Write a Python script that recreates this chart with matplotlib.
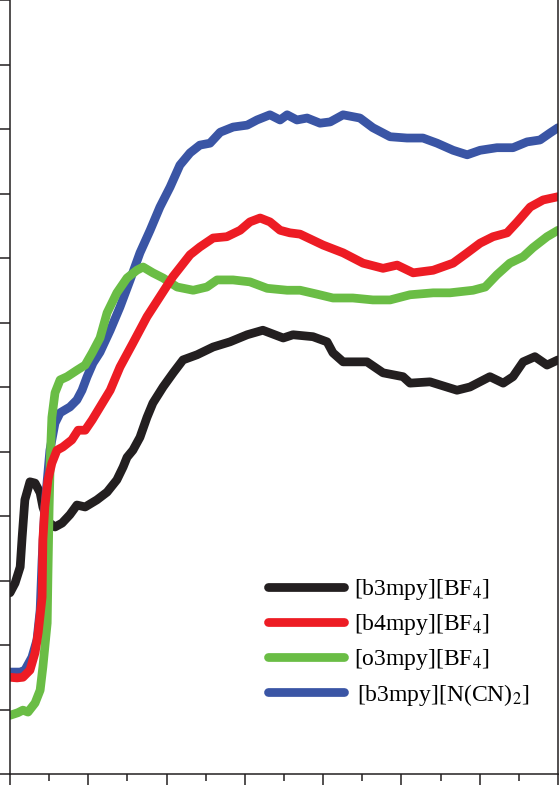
import matplotlib
matplotlib.use("Agg")
import matplotlib.pyplot as plt
from matplotlib.ticker import MultipleLocator

plt.rcParams["font.family"] = ["Liberation Serif", "DejaVu Serif"]
plt.rcParams["mathtext.fontset"] = "stix"

# values (x: minor-tick units 0..14, y: left-tick units 0..12)
x_b3_bf4 = [0.00, 0.13, 0.26, 0.31, 0.38, 0.51, 0.64, 0.77, 0.84, 0.97, 1.15, 1.33, 1.53, 1.71,
            1.92, 2.22, 2.48, 2.73, 2.89, 2.99, 3.14, 3.32, 3.50, 3.65, 3.91, 4.17, 4.42, 4.78,
            5.19, 5.62, 6.06, 6.46, 6.98, 7.23, 7.74, 8.10, 8.25, 8.51, 9.12, 9.53, 10.04, 10.22,
            10.73, 11.42, 11.75, 12.26, 12.60, 12.85, 13.11, 13.41, 13.72, 14.00]
y_b3_bf4 = [2.81, 2.96, 3.21, 3.67, 4.25, 4.53, 4.51, 4.36, 4.14, 3.91, 3.83, 3.89, 4.02, 4.17,
            4.14, 4.25, 4.37, 4.56, 4.76, 4.91, 5.02, 5.22, 5.53, 5.75, 6.00, 6.22, 6.42, 6.50,
            6.62, 6.70, 6.81, 6.88, 6.76, 6.81, 6.78, 6.70, 6.53, 6.39, 6.39, 6.22, 6.16, 6.06,
            6.08, 5.95, 6.00, 6.16, 6.06, 6.16, 6.39, 6.47, 6.34, 6.42]

x_b4_bf4 = [0.00, 0.18, 0.33, 0.51, 0.64, 0.72, 0.82, 0.84, 0.89, 0.97, 1.07, 1.20, 1.35, 1.58,
            1.74, 1.92, 2.10, 2.30, 2.56, 2.81, 3.14, 3.50, 3.83, 4.16, 4.60, 4.85, 5.19, 5.54,
            5.88, 6.13, 6.39, 6.64, 6.90, 7.15, 7.41, 8.00, 8.51, 9.02, 9.53, 9.89, 10.30, 10.81,
            11.32, 11.68, 12.01, 12.34, 12.70, 12.96, 13.29, 13.62, 14.00]
y_b4_bf4 = [1.50, 1.49, 1.50, 1.61, 1.88, 2.19, 2.74, 3.63, 4.14, 4.56, 4.82, 5.02, 5.07, 5.18,
            5.33, 5.33, 5.49, 5.69, 5.95, 6.31, 6.68, 7.09, 7.40, 7.71, 8.05, 8.17, 8.31, 8.33,
            8.43, 8.56, 8.62, 8.56, 8.43, 8.39, 8.37, 8.20, 8.08, 7.92, 7.84, 7.89, 7.77, 7.81,
            7.92, 8.08, 8.23, 8.33, 8.39, 8.56, 8.79, 8.90, 8.95]

x_o3_bf4 = [0.00, 0.20, 0.33, 0.46, 0.64, 0.77, 0.84, 0.95, 0.97, 1.00, 1.03, 1.07, 1.15, 1.28,
            1.46, 1.71, 1.92, 2.10, 2.30, 2.48, 2.73, 2.99, 3.24, 3.40, 3.65, 3.91, 4.27, 4.68,
            5.03, 5.29, 5.70, 6.13, 6.57, 7.08, 7.41, 7.84, 8.25, 8.76, 9.27, 9.71, 10.22, 10.81,
            11.24, 11.83, 12.14, 12.44, 12.77, 13.11, 13.36, 13.72, 14.00]
y_o3_bf4 = [0.91, 0.95, 0.99, 0.96, 1.10, 1.30, 1.66, 2.34, 3.12, 4.14, 4.91, 5.53, 5.91, 6.11,
            6.16, 6.26, 6.34, 6.53, 6.76, 7.15, 7.46, 7.69, 7.81, 7.86, 7.77, 7.69, 7.55, 7.50,
            7.55, 7.66, 7.66, 7.63, 7.53, 7.50, 7.50, 7.44, 7.38, 7.38, 7.35, 7.35, 7.43, 7.46,
            7.46, 7.50, 7.55, 7.74, 7.92, 8.02, 8.16, 8.33, 8.43]

x_b3_dca = [0.00, 0.26, 0.38, 0.56, 0.69, 0.77, 0.82, 0.89, 1.02, 1.15, 1.28, 1.53, 1.71, 1.84,
            1.97, 2.12, 2.30, 2.56, 2.81, 3.07, 3.32, 3.58, 3.83, 4.09, 4.34, 4.60, 4.85, 5.11,
            5.37, 5.70, 6.06, 6.31, 6.64, 6.90, 7.08, 7.33, 7.59, 7.92, 8.18, 8.51, 8.94, 9.27,
            9.71, 10.14, 10.55, 10.91, 11.32, 11.68, 12.01, 12.44, 12.85, 13.21, 13.54, 13.80, 14.00]
y_b3_dca = [1.58, 1.58, 1.61, 1.81, 2.08, 2.54, 3.32, 4.14, 5.02, 5.44, 5.60, 5.69, 5.80, 5.95,
            6.16, 6.37, 6.54, 6.88, 7.24, 7.66, 8.08, 8.43, 8.79, 9.10, 9.44, 9.63, 9.75, 9.78,
            9.95, 10.03, 10.06, 10.14, 10.22, 10.14, 10.22, 10.14, 10.17, 10.09, 10.11, 10.22, 10.17, 10.02,
            9.88, 9.86, 9.86, 9.78, 9.67, 9.60, 9.67, 9.71, 9.71, 9.80, 9.83, 9.94, 10.02]

labels = ["[b3mpy][BF$_4$]", "[b4mpy][BF$_4$]", "[o3mpy][BF$_4$]", "[b3mpy][N(CN)$_2$]"]
colors = ["#231f20", "#ed1c24", "#6abd45", "#3a55a5"]

fig = plt.figure(figsize=(5.6, 7.85), dpi=100)
ax = fig.add_axes([10 / 560, 11 / 785, 548 / 560, 774 / 785])

style = dict(lw=6.3, solid_capstyle="round", solid_joinstyle="round")
l_black, = ax.plot(x_b3_bf4, y_b3_bf4, color=colors[0], label=labels[0], **style)
l_blue, = ax.plot(x_b3_dca, y_b3_dca, color=colors[3], label=labels[3], **style)
l_green, = ax.plot(x_o3_bf4, y_o3_bf4, color=colors[2], label=labels[2], **style)
l_red, = ax.plot(x_b4_bf4, y_b4_bf4, color=colors[1], label=labels[1], **style)

ax.set_xlim(0, 14)
ax.set_ylim(0, 12)
ax.xaxis.set_major_locator(MultipleLocator(2))
ax.xaxis.set_minor_locator(MultipleLocator(1))
ax.yaxis.set_major_locator(MultipleLocator(1))
ax.tick_params(axis="x", which="major", direction="out", length=12, width=1.1,
               labelbottom=False, color="#231f20")
ax.tick_params(axis="x", which="minor", direction="out", length=5, width=1.1, color="#231f20")
ax.tick_params(axis="y", which="major", direction="out", length=7, width=1.1,
               labelleft=False, color="#231f20")
ax.spines["top"].set_visible(False)
for s in ["left", "bottom", "right"]:
    ax.spines[s].set_linewidth(1.1)
    ax.spines[s].set_color("#231f20")

leg = ax.legend(handles=[l_black, l_red, l_green, l_blue], loc="upper left",
                bbox_to_anchor=(268 / 560, 1 - 577 / 785), bbox_transform=fig.transFigure,
                frameon=False, fontsize=17, handlelength=3.2, handletextpad=0.45,
                labelspacing=0.42, borderpad=0, borderaxespad=0)
for h in leg.get_lines():
    h.set_linewidth(6.3)
    h.set_solid_capstyle("round")
leg.get_texts()[3].set_position((3, 0))

fig.savefig("out.png", dpi=100)
